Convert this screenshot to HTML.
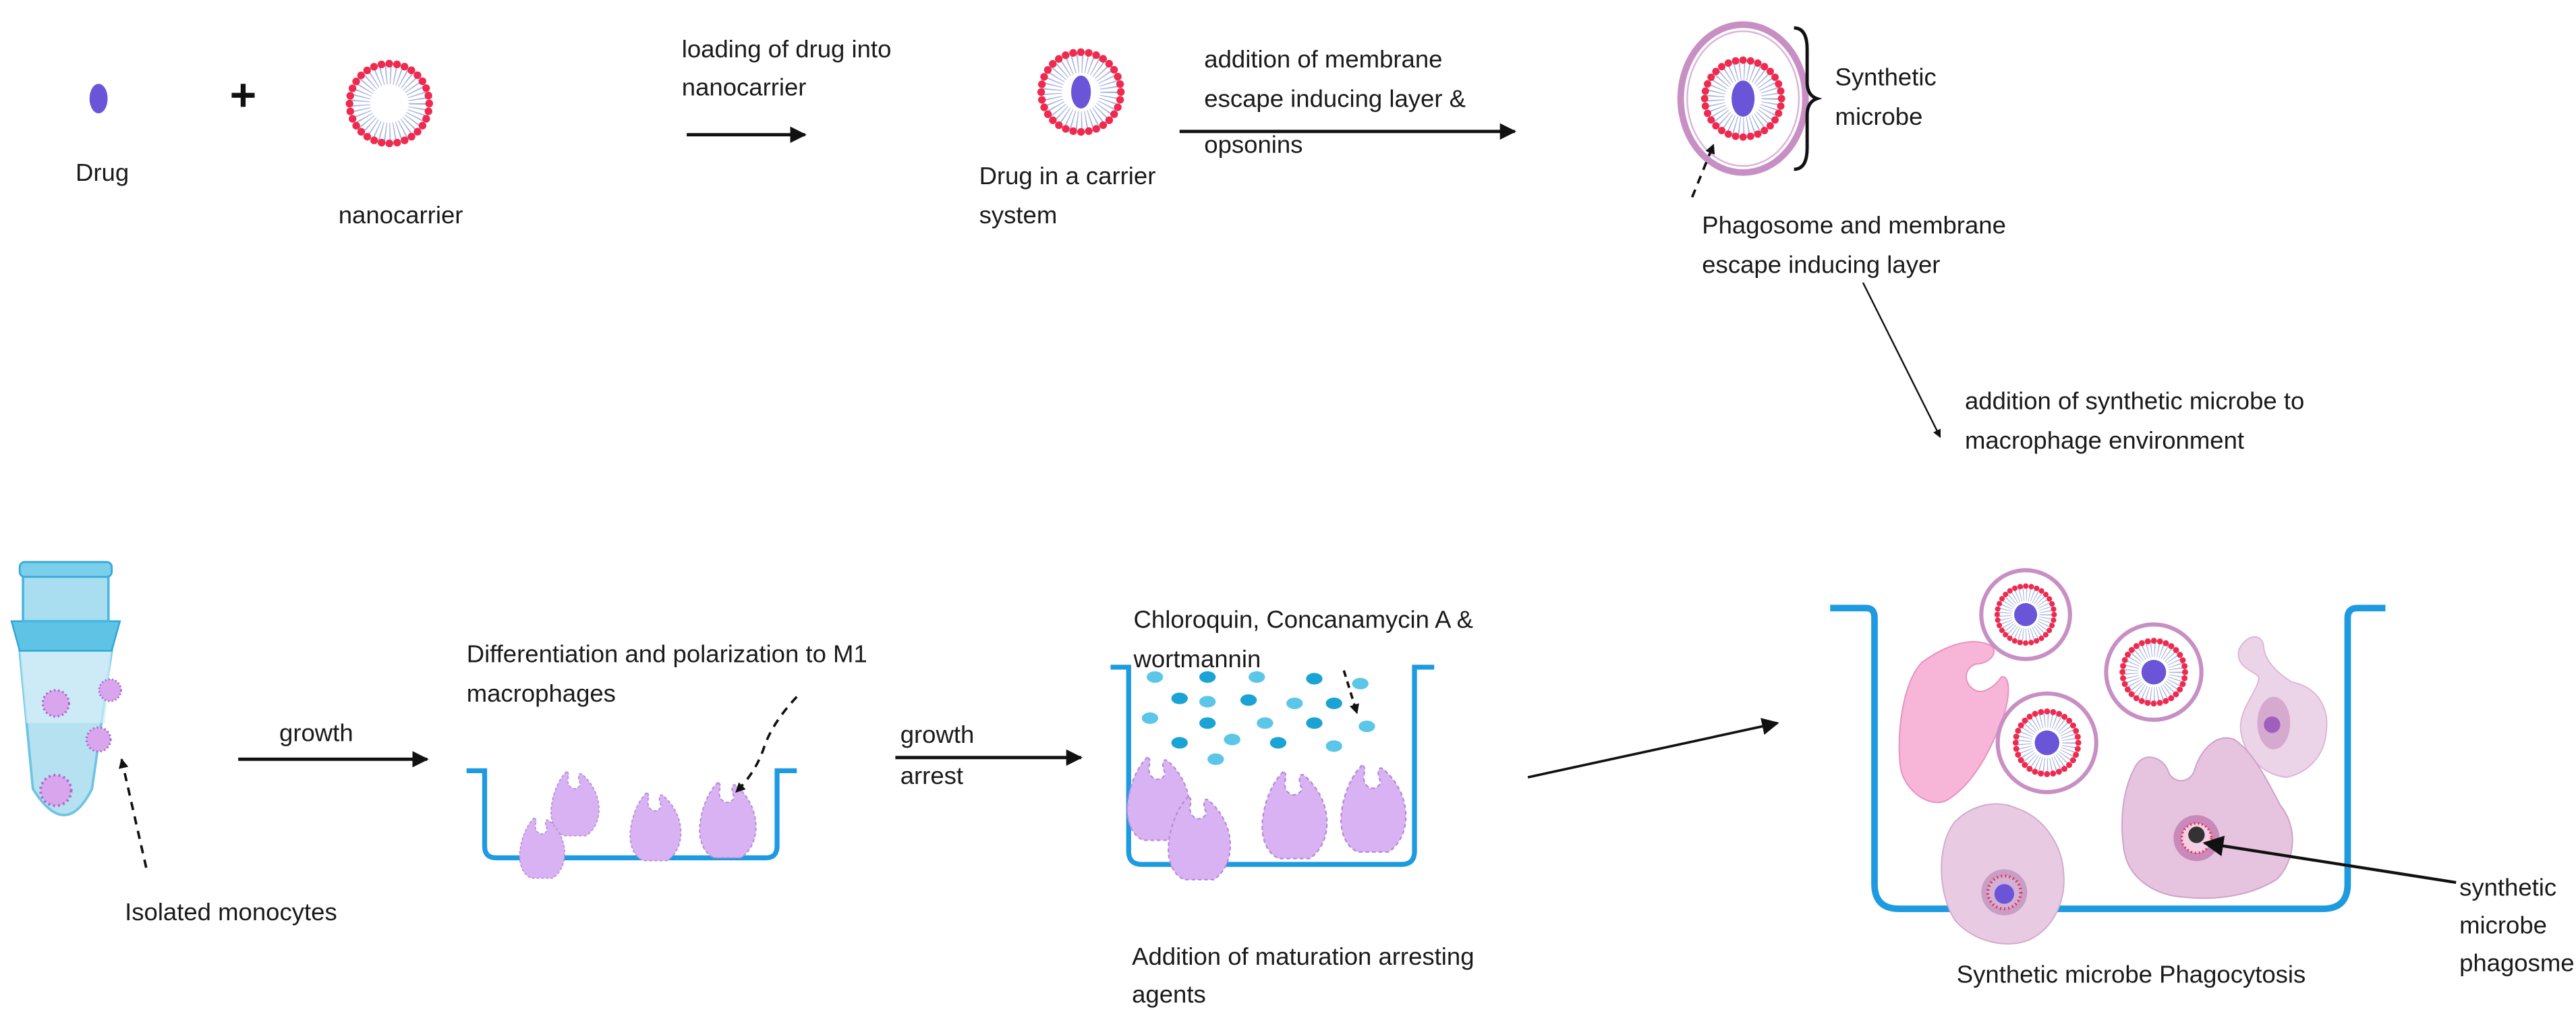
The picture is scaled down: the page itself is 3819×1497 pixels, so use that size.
<!DOCTYPE html>
<html><head><meta charset="utf-8"><style>
html,body{margin:0;padding:0;background:#fff;}
svg{display:block;}
text{font-family:"Liberation Sans",sans-serif;font-size:15px;fill:#1a1a1a;}
</style></head><body>
<svg width="3819" height="1497" viewBox="0 0 1568 614.6" preserveAspectRatio="none" xmlns="http://www.w3.org/2000/svg">
<defs>
<marker id="ah" viewBox="0 0 10 10" refX="9" refY="5" markerWidth="5" markerHeight="5" orient="auto"><path d="M0,0 L10,5 L0,10 z" fill="#111"/></marker>
<marker id="ahs" viewBox="0 0 10 10" refX="9" refY="5" markerWidth="7" markerHeight="7" orient="auto"><path d="M0,0 L10,5 L0,10 z" fill="#111"/></marker>
<symbol id="ves" viewBox="-30 -30 60 60" overflow="visible">
  <circle r="19" fill="none" stroke="#a6b2dc" stroke-width="13" stroke-dasharray="0.7 2.2"/>
  <circle r="12.5" fill="#fff"/>
  <circle r="26" fill="none" stroke="#ee2a4f" stroke-width="5" stroke-linecap="round" stroke-dasharray="0 5.1"/>
</symbol>
<symbol id="mac" viewBox="0 0 40 50" overflow="visible">
  <path d="M14,2 C8,8 4,18 3,28 C2,38 6,46 12,48 L28,48 C34,44 38,36 37,26 C36,16 30,8 25,4 C22,2 22,8 24,11 C22,16 16,15 15,10 C14,7 17,4 14,2 z" fill="#d8b2f2" stroke="#b48ad8" stroke-width="0.8" stroke-dasharray="2 1.5"/>
</symbol>
<symbol id="mono" viewBox="-12 -12 24 24" overflow="visible">
  <circle r="8" fill="#d9a6ee" stroke="#a96ac9" stroke-width="1.4" stroke-dasharray="1 1.6"/>
</symbol>
<marker id="ahl" viewBox="0 0 10 10" refX="9" refY="5" markerWidth="4" markerHeight="4" orient="auto"><path d="M0,0 L10,5 L0,10 z" fill="#111"/></marker>
</defs>

<!-- TOP ROW -->
<ellipse cx="60" cy="60" rx="5.5" ry="9" fill="#6a54d8"/>
<text x="46" y="110">Drug</text>
<path d="M141,58 H155 M148,51 V65" stroke="#111" stroke-width="3"/>
<use href="#ves" x="209" y="33" width="56" height="60"/>
<text x="206" y="136">nanocarrier</text>
<text x="415" y="35">loading of drug into</text>
<text x="415" y="58">nanocarrier</text>
<line x1="418" y1="82" x2="490" y2="82" stroke="#111" stroke-width="2" marker-end="url(#ah)"/>
<use href="#ves" x="630" y="26" width="56" height="60"/>
<ellipse cx="658" cy="56" rx="6" ry="10" fill="#6a54d8"/>
<text x="596" y="112">Drug in a carrier</text>
<text x="596" y="136">system</text>
<text x="733" y="41">addition of membrane</text>
<text x="733" y="65">escape inducing layer &amp;</text>
<text x="733" y="93">opsonins</text>
<line x1="718" y1="80" x2="922" y2="80" stroke="#111" stroke-width="2" marker-end="url(#ah)"/>
<!-- synthetic microbe -->
<ellipse cx="1061" cy="60" rx="38" ry="45" fill="none" stroke="#c88fc4" stroke-width="4"/>
<ellipse cx="1061" cy="60" rx="34" ry="41" fill="#fff" stroke="#dbb3d8" stroke-width="1"/>
<use href="#ves" x="1034" y="28" width="54" height="64"/>
<ellipse cx="1061" cy="60" rx="7" ry="11" fill="#6a54d8"/>
<path d="M1092,17 Q1100,17 1100,30 V50 Q1100,58 1106,60 Q1100,62 1100,70 V90 Q1100,103 1092,103" fill="none" stroke="#111" stroke-width="2"/>
<text x="1117" y="52">Synthetic</text>
<text x="1117" y="76">microbe</text>
<line x1="1030" y1="120" x2="1043" y2="88" stroke="#111" stroke-width="1.5" stroke-dasharray="5 4" marker-end="url(#ahl)"/>
<text x="1036" y="142">Phagosome and membrane</text>
<text x="1036" y="166">escape inducing layer</text>
<line x1="1134" y1="172" x2="1181" y2="266" stroke="#111" stroke-width="1" marker-end="url(#ah)"/>
<text x="1196" y="249">addition of synthetic microbe to</text>
<text x="1196" y="273">macrophage environment</text>

<!-- BOTTOM: tube -->
<g>
<path d="M12,396 L20,480 Q40,512 56,480 L68,396 z" fill="#b5e1f0" stroke="#6cc4e4" stroke-width="1.5"/>
<path d="M12,396 L16,440 L64,440 L68,396 z" fill="#d6f0f9" opacity="0.7"/>
<path d="M7,378 L73,378 L68,396 L12,396 z" fill="#5fc3e6" stroke="#2aa6d6" stroke-width="1"/>
<rect x="14" y="348" width="52" height="30" fill="#a9def0" stroke="#4ab7e0" stroke-width="1.5"/>
<rect x="12" y="342" width="56" height="9" rx="3" fill="#7ccfeb" stroke="#3aa9d9" stroke-width="1.2"/>
<use href="#mono" x="22" y="416" width="24" height="24"/>
<use href="#mono" x="57" y="408" width="20" height="24"/>
<use href="#mono" x="49" y="438" width="22" height="24"/>
<use href="#mono" x="20" y="466" width="28" height="30"/>
</g>
<line x1="89" y1="528" x2="74" y2="462" stroke="#111" stroke-width="1.5" stroke-dasharray="5 4" marker-end="url(#ahl)"/>
<text x="76" y="560">Isolated monocytes</text>
<text x="170" y="451">growth</text>
<line x1="145" y1="462" x2="260" y2="462" stroke="#111" stroke-width="2" marker-end="url(#ah)"/>
<!-- dish 1 -->
<text x="284" y="403">Differentiation and polarization to M1</text>
<text x="284" y="427">macrophages</text>
<path d="M284,469 H295 V515 Q295,522 302,522 H466 Q473,522 473,515 V469 H485" fill="none" stroke="#1e9ae0" stroke-width="3"/>
<use href="#mac" x="333" y="466" width="34" height="46"/>
<use href="#mac" x="314" y="494" width="32" height="44"/>
<use href="#mac" x="381" y="480" width="36" height="46"/>
<use href="#mac" x="423" y="472" width="40" height="54"/>
<path d="M485,424 Q470,440 465,455 Q460,470 448,482" fill="none" stroke="#111" stroke-width="1.5" stroke-dasharray="5 4" marker-end="url(#ahl)"/>
<text x="548" y="452">growth</text>
<text x="548" y="477">arrest</text>
<line x1="545" y1="461" x2="658" y2="461" stroke="#111" stroke-width="2" marker-end="url(#ah)"/>
<!-- dish 2 -->
<text x="690" y="382">Chloroquin, Concanamycin A &amp;</text>
<text x="690" y="406">wortmannin</text>
<path d="M676,406 H687 V518 Q687,526 695,526 H853 Q861,526 861,518 V406 H873" fill="none" stroke="#1e9ae0" stroke-width="3"/>
<g fill="#5cc6e8">
<ellipse cx="703" cy="412" rx="5" ry="3.5"/><ellipse cx="735" cy="412" rx="5" ry="3.5" fill="#1aa3d4"/><ellipse cx="765" cy="412" rx="5" ry="3.5"/><ellipse cx="800" cy="413" rx="5" ry="3.5" fill="#1aa3d4"/><ellipse cx="828" cy="416" rx="5" ry="3.5"/>
<ellipse cx="718" cy="425" rx="5" ry="3.5" fill="#1aa3d4"/><ellipse cx="735" cy="427" rx="5" ry="3.5"/><ellipse cx="760" cy="426" rx="5" ry="3.5" fill="#1aa3d4"/><ellipse cx="788" cy="428" rx="5" ry="3.5"/><ellipse cx="812" cy="428" rx="5" ry="3.5" fill="#1aa3d4"/>
<ellipse cx="700" cy="437" rx="5" ry="3.5"/><ellipse cx="735" cy="440" rx="5" ry="3.5" fill="#1aa3d4"/><ellipse cx="770" cy="440" rx="5" ry="3.5"/><ellipse cx="800" cy="440" rx="5" ry="3.5" fill="#1aa3d4"/><ellipse cx="832" cy="442" rx="5" ry="3.5"/>
<ellipse cx="718" cy="452" rx="5" ry="3.5" fill="#1aa3d4"/><ellipse cx="750" cy="450" rx="5" ry="3.5"/><ellipse cx="778" cy="452" rx="5" ry="3.5" fill="#1aa3d4"/><ellipse cx="812" cy="454" rx="5" ry="3.5"/><ellipse cx="740" cy="462" rx="5" ry="3.5"/>
</g>
<line x1="818" y1="408" x2="826" y2="434" stroke="#111" stroke-width="1.5" stroke-dasharray="4 3" marker-end="url(#ahl)"/>
<use href="#mac" x="683" y="456" width="44" height="60"/>
<use href="#mac" x="708" y="482" width="44" height="56"/>
<use href="#mac" x="765" y="466" width="46" height="60"/>
<use href="#mac" x="813" y="462" width="46" height="60"/>
<text x="689" y="587">Addition of  maturation arresting</text>
<text x="689" y="610">agents</text>
<line x1="930" y1="473" x2="1082" y2="440" stroke="#111" stroke-width="1.5" marker-end="url(#ahs)"/>
<!-- dish 3 -->
<path d="M1114,370 H1136 Q1141,370 1141,376 V538 Q1141,553 1156,553 H1414 Q1429,553 1429,538 V376 Q1429,370 1435,370 H1452" fill="none" stroke="#1e9ae0" stroke-width="4"/>
<path d="M1170,403 C1185,392 1200,388 1210,392 C1218,395 1212,404 1203,404 C1196,406 1194,415 1202,420 C1208,423 1216,416 1218,412 C1224,410 1224,425 1218,440 C1210,460 1200,478 1185,487 C1175,492 1160,482 1157,468 C1154,448 1158,415 1170,403 z" fill="#f7b6d7" stroke="#e890bf" stroke-width="0.8"/>
<path d="M1363,395 C1368,385 1378,385 1378,395 C1380,405 1390,412 1395,415 C1410,418 1418,430 1416,445 C1415,460 1405,470 1392,473 C1378,472 1366,460 1364,445 C1362,432 1375,420 1375,412 C1372,408 1360,406 1363,395 z" fill="#ecd4e8" stroke="#dcb6d6" stroke-width="0.8"/>
<ellipse cx="1384" cy="440" rx="10" ry="16" fill="#d6a9cf"/>
<circle cx="1383" cy="441" r="5" fill="#9f5fbd"/>
<path d="M1300,466 C1306,456 1318,462 1320,470 C1324,478 1334,476 1336,468 C1340,455 1350,446 1360,450 C1372,458 1380,475 1388,490 C1400,505 1396,525 1386,535 C1370,545 1350,548 1330,546 C1312,545 1296,535 1293,518 C1290,500 1292,480 1300,466 z" fill="#e6c4df" stroke="#cfa0c8" stroke-width="0.8"/>
<circle cx="1337" cy="510" r="14" fill="#c98ab9"/>
<circle cx="1337" cy="510" r="9" fill="#f3d0e6" stroke="#ee2a4f" stroke-width="1.5" stroke-dasharray="0.8 1.6"/>
<circle cx="1337" cy="508" r="5" fill="#333"/>
<path d="M1190,500 C1200,490 1215,486 1228,492 C1245,498 1255,515 1256,530 C1258,548 1250,565 1235,572 C1220,578 1200,572 1190,560 C1180,545 1178,515 1190,500 z" fill="#e8cbe3" stroke="#d4a9cc" stroke-width="0.8"/>
<circle cx="1220" cy="543" r="14" fill="#c89ec4"/>
<circle cx="1220" cy="543" r="10" fill="#d3b1d6" stroke="#ee2a4f" stroke-width="1.8" stroke-dasharray="0.8 1.7"/>
<circle cx="1220" cy="544" r="6" fill="#6a54d8"/>
<g>
<circle cx="1233" cy="374" r="27" fill="#fff" stroke="#c88fc4" stroke-width="2.5"/>
<use href="#ves" x="1213" y="354" width="40" height="40"/>
<circle cx="1233" cy="374" r="7" fill="#6a54d8"/>
<circle cx="1311" cy="409" r="29" fill="#fff" stroke="#c88fc4" stroke-width="2.5"/>
<use href="#ves" x="1289" y="387" width="44" height="44"/>
<circle cx="1311" cy="409" r="7.5" fill="#6a54d8"/>
<circle cx="1246" cy="452" r="30" fill="#fff" stroke="#c88fc4" stroke-width="2.5"/>
<use href="#ves" x="1224" y="430" width="44" height="44"/>
<circle cx="1246" cy="452" r="7.5" fill="#6a54d8"/>
</g>
<line x1="1495" y1="537" x2="1342" y2="513" stroke="#111" stroke-width="1.8" marker-end="url(#ahs)"/>
<text x="1497" y="545">synthetic</text>
<text x="1497" y="568">microbe</text>
<text x="1497" y="591">phagosme</text>
<text x="1191" y="598">Synthetic microbe Phagocytosis</text>
</svg>
</body></html>
